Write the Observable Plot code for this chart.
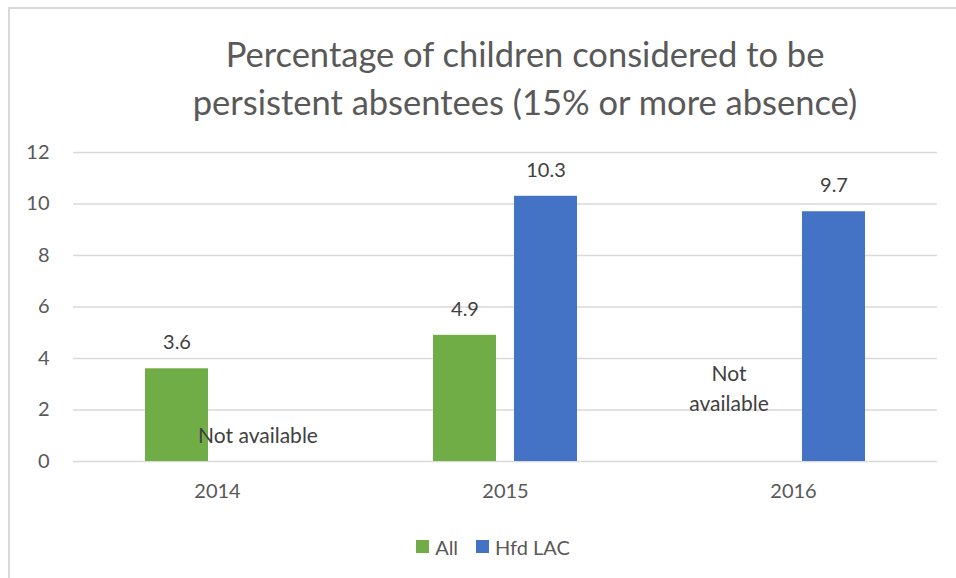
<!DOCTYPE html>
<html>
<head>
<meta charset="utf-8">
<script src="https://cdn.jsdelivr.net/npm/d3@7"></script>
<script src="https://cdn.jsdelivr.net/npm/@observablehq/plot@0.6"></script>
<style>
  html, body { margin: 0; padding: 0; background: #fff; }
  #wrap { position: relative; width: 956px; height: 578px; overflow: hidden; font-family: Lato, "Open Sans", sans-serif; color: #595959; }
  #frame { position: absolute; left: 8px; top: 7px; width: 960px; height: 600px; border-top: 2px solid #D9D9D9; border-left: 2px solid #D9D9D9; box-sizing: border-box; }
  #title { position: absolute; left: 125px; width: 800px; top: 30px; text-align: center; font-size: 34.5px; line-height: 48px; white-space: nowrap; }
  #chart { position: absolute; left: 0; top: 130px; }
  #legend { position: absolute; top: 533px; left: 0; width: 986px; text-align: center; font-size: 20px; }
  .item { display: inline-flex; align-items: center; margin: 0 9px; }
  .sw { width: 13px; height: 13px; display: inline-block; margin-right: 6px; }
</style>
</head>
<body>
<div id="wrap">
  <div id="frame"></div>
  <div id="title">Percentage of children considered to be<br>persistent absentees (15% or more absence)</div>
  <div id="chart"></div>
  <div id="legend"></div>
</div>
<script>
const years = ["2014", "2015", "2016"];
const seriesNames = ["All", "Hfd LAC"];
const allValues = [3.6, 4.9, null];
const hfdValues = [null, 10.3, 9.7];
const colors = ["#70AD47", "#4472C4"];
const yTicks = [0, 2, 4, 6, 8, 10, 12];
const naLabels = [
  {year: "2014", series: "Hfd LAC", text: "Not available"},
  {year: "2016", series: "All", text: "Not\navailable"}
];

const rows = [];
years.forEach((yr, i) => {
  if (allValues[i] != null) rows.push({year: yr, series: "All", value: allValues[i]});
  if (hfdValues[i] != null) rows.push({year: yr, series: "Hfd LAC", value: hfdValues[i]});
});

const chart = Plot.plot({
  width: 956,
  height: 381,
  marginLeft: 72,
  marginRight: 18,
  marginTop: 22,
  marginBottom: 50,
  style: {fontFamily: "Lato, 'Open Sans', sans-serif", fontSize: "20px", color: "#595959", background: "transparent"},
  fx: {domain: years, padding: 0, label: null},
  x: {domain: seriesNames, paddingInner: 0.22, paddingOuter: 0.87, axis: null},
  y: {domain: [0, 12], label: null},
  color: {domain: seriesNames, range: colors},
  marks: [
    Plot.ruleY(yTicks, {stroke: "#D9D9D9", strokeWidth: 1.5}),
    Plot.axisY(yTicks, {tickSize: 0, tickPadding: 24, label: null, fontSize: 20, fill: "#595959"}),
    Plot.axisFx({anchor: "bottom", tickSize: 0, tickPadding: 22, label: null, fontSize: 20, fill: "#595959"}),
    Plot.barY(rows, {fx: "year", x: "series", y: "value", fill: "series"}),
    Plot.text(rows, {fx: "year", x: "series", y: "value", text: d => d.value.toFixed(1), dy: -26, fontSize: 20, fill: "#404040"}),
    Plot.text(naLabels.slice(0, 1), {fx: "year", x: "series", y: () => 0, text: "text", dy: -25, fontSize: 21, fill: "#404040"}),
    Plot.text(naLabels.slice(1), {fx: "year", x: "series", y: () => 0, text: "text", dy: -75, dx: -24, fontSize: 21, lineHeight: 1.4, fill: "#404040"})
  ]
});
document.getElementById("chart").appendChild(chart);

const legend = document.getElementById("legend");
seriesNames.forEach((s, i) => {
  const it = document.createElement("span");
  it.className = "item";
  const sw = document.createElement("span");
  sw.className = "sw";
  sw.style.background = colors[i];
  it.appendChild(sw);
  it.appendChild(document.createTextNode(s));
  legend.appendChild(it);
});
</script>
</body>
</html>
